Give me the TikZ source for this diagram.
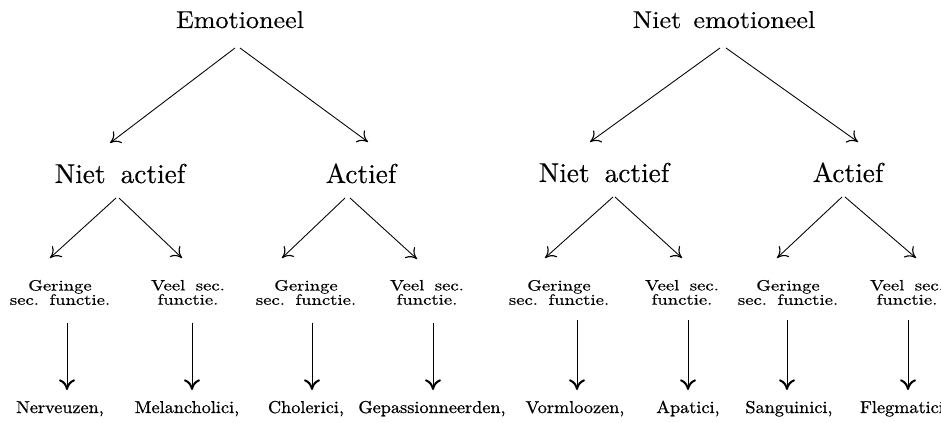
\documentclass[tikz,border=0pt]{standalone}
\usepackage{fontspec}
\newfontfamily\fTop{lmroman10-regular.otf}[FakeStretch=1.07,FakeBold=0.3]
\newfontfamily\fMid{lmroman10-regular.otf}[FakeBold=0.3]
\newfontfamily\fSml{lmroman10-regular.otf}[FakeStretch=1.25,FakeBold=0.4]
\newfontfamily\fBot{lmroman10-regular.otf}[FakeStretch=1.06,FakeBold=0.8]
\usetikzlibrary{arrows.meta,calc}
\newcommand\mywsp{\hspace{0.7em}}
\begin{document}
\begin{tikzpicture}[x=0.75pt,y=-0.75pt,
  lab/.style={inner sep=0pt, outer sep=0pt},
  toplab/.style={lab, anchor=base, font=\fontsize{18.3}{22}\fTop},
  midlab/.style={lab, anchor=base, font=\fontsize{20.5}{24}\fMid},
  smllab/.style={lab, anchor=north, align=center, font=\fontsize{11.2}{10.7}\fSml},
  botlab/.style={lab, anchor=base, font=\fontsize{12.9}{15}\fBot},
  arr/.style={line width=0.65pt, -{Computer Modern Rightarrow[length=7.5pt,width=11pt,line width=0.85pt]}},
  varr/.style={line width=0.5pt, -{Computer Modern Rightarrow[length=8pt,width=12pt,line width=1.5pt]}}]
\useasboundingbox (0,0) rectangle (941,423);
\clip (0,0) rectangle (941,423);
% level 1
\node[toplab] (e1) at (240,28) {Emotioneel};
\node[toplab] (e2) at (724,28) {Niet\hspace{0.5em}emotioneel};
% level 2
\node[midlab] (a1) at (120,183) {Niet\hspace{0.55em}actief};
\node[midlab] (a2) at (361,183) {Actief};
\node[midlab] (a3) at (604,182) {Niet\hspace{0.55em}actief};
\node[midlab] (a4) at (848,182) {Actief};
% level 3
\node[smllab] (g1) at (60,280) {Geringe\\sec.\mywsp functie.};
\node[smllab] (v1) at (188,280) {Veel\mywsp sec.\\functie.};
\node[smllab] (g2) at (306,280) {Geringe\\sec.\mywsp functie.};
\node[smllab] (v2) at (427,280) {Veel\mywsp sec.\\functie.};
\node[smllab] (g3) at (559,280) {Geringe\\sec.\mywsp functie.};
\node[smllab] (v3) at (682,280) {Veel\mywsp sec.\\functie.};
\node[smllab] (g4) at (788,280) {Geringe\\sec.\mywsp functie.};
\node[smllab] (v4) at (907,280) {Veel\mywsp sec.\\functie.};
% level 4
\node[botlab] (n1) at (60,413) {Nerveuzen,};
\node[botlab] (n2) at (187,413) {Melancholici,};
\node[botlab] (n3) at (306,413) {Cholerici,};
\node[botlab] (n4) at (432,413) {Gepassionneerden,};
\node[botlab] (n5) at (575,413) {Vormloozen,};
\node[botlab] (n6) at (688,413) {Apatici,};
\node[botlab] (n7) at (789,413) {Sanguinici,};
\node[botlab, anchor=base west] (n8) at (860,413) {Flegmatici,};
% arrows level 1 -> 2
\draw[arr] ($(e1.base)+(-5,20)$) -- ($(a1.base)+(-10,-40)$);
\draw[arr] ($(e1.base)+(0,20)$) -- ($(a2.base)+(7,-41)$);
\draw[arr] ($(e2.base)+(-4,20)$) -- ($(a3.base)+(-14,-40)$);
\draw[arr] ($(e2.base)+(2,20)$) -- ($(a4.base)+(10,-40)$);
% arrows level 2 -> 3
\draw[arr] ($(a1.base)+(-4,15)$) -- ($(g1.north)+(-10,-22)$);
\draw[arr] ($(a1.base)+(-1,15)$) -- ($(v1.north)+(-6,-22)$);
\draw[arr] ($(a2.base)+(-16,15)$) -- ($(g2.north)+(-24,-22)$);
\draw[arr] ($(a2.base)+(-11,15)$) -- ($(v2.north)+(-10,-21)$);
\draw[arr] ($(a3.base)+(9,15)$) -- ($(g3.north)+(-14,-22)$);
\draw[arr] ($(a3.base)+(11,15)$) -- ($(v3.north)+(0,-22)$);
\draw[arr] ($(a4.base)+(-6,15)$) -- ($(g4.north)+(-11,-22)$);
\draw[arr] ($(a4.base)+(-3,15)$) -- ($(v4.north)+(9,-22)$);
% arrows level 3 -> 4
\draw[varr] ($(g1.north)+(7,43)$) -- ($(n1.base)+(7,-23)$);
\draw[varr] ($(v1.north)+(4,43)$) -- ($(n2.base)+(5,-23)$);
\draw[varr] ($(g2.north)+(6,43)$) -- ($(n3.base)+(6,-23)$);
\draw[varr] ($(v2.north)+(6,43)$) -- ($(n4.base)+(1,-23)$);
\draw[varr] ($(g3.north)+(18,40)$) -- ($(n5.base)+(2,-23)$);
\draw[varr] ($(v3.north)+(6,40)$) -- ($(n6.base)+(0,-23)$);
\draw[varr] ($(g4.north)+(-1,40)$) -- ($(n7.base)+(-2,-23)$);
\draw[varr] ($(v4.north)+(1,40)$) -- ($(n8.base west)+(48,-23)$);
\end{tikzpicture}
\end{document}
